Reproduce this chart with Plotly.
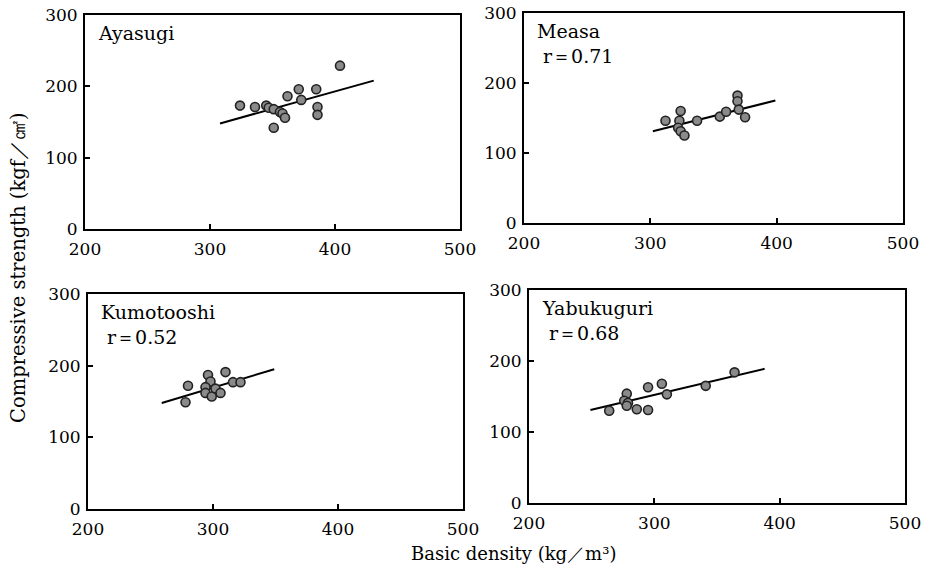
import plotly.graph_objects as go

# ---- data ----
names = ["Ayasugi", "Measa", "Kumotooshi", "Yabukuguri"]
r_labels = ["", "r＝0.71", "r＝0.52", "r＝0.68"]

aya_x = [324, 336, 345, 347, 351, 356, 358, 360, 351, 362, 371, 373, 385, 386, 386, 404]
aya_y = [173, 171, 173, 170, 168, 164, 162, 156, 142, 186, 196, 181, 196, 171, 160, 229]
aya_fit_x = [308, 431]
aya_fit_y = [148, 208]

mea_x = [312, 324, 323, 322, 324, 327, 337, 355, 360, 369, 369, 370, 375]
mea_y = [146, 160, 146, 136, 131, 125, 146, 152, 159, 182, 174, 162, 151]
mea_fit_x = [302, 399]
mea_fit_y = [131, 175]

kum_x = [280, 278, 296, 298, 294, 294, 299, 302, 306, 310, 316, 322]
kum_y = [172, 149, 187, 178, 170, 162, 157, 168, 162, 191, 177, 177]
kum_fit_x = [259, 349]
kum_fit_y = [148, 195]

yab_x = [264, 278, 276, 279, 278, 286, 295, 306, 295, 310, 341, 364]
yab_y = [130, 154, 144, 141, 137, 132, 163, 168, 131, 153, 165, 184]
yab_fit_x = [249, 388]
yab_fit_y = [131, 189]

x_ticks = [200, 300, 400, 500]
x_tick_text = ["200", "300", "400", "500"]
y_ticks = [0, 100, 200, 300]

series = [
    (aya_x, aya_y, aya_fit_x, aya_fit_y),
    (mea_x, mea_y, mea_fit_x, mea_fit_y),
    (kum_x, kum_y, kum_fit_x, kum_fit_y),
    (yab_x, yab_y, yab_fit_x, yab_fit_y),
]

W, H = 932, 578
# panel pixel boxes: left, right, top, bottom
boxes = [(85, 460, 15, 229), (524, 903, 13, 223), (88, 463, 294, 509), (529, 905, 290, 503)]

FONT = "DejaVu Serif"
fig = go.Figure()
layout = {}
for i, ((sx, sy, fx, fy), (l, r, t, b)) in enumerate(zip(series, boxes)):
    k = "" if i == 0 else str(i + 1)
    xa, ya = "x" + k, "y" + k
    fig.add_trace(go.Scatter(x=fx, y=fy, mode="lines", xaxis=xa, yaxis=ya,
                             line=dict(color="black", width=2), showlegend=False,
                             hoverinfo="skip"))
    fig.add_trace(go.Scatter(x=sx, y=sy, mode="markers", xaxis=xa, yaxis=ya,
                             marker=dict(size=9, color="#8a8a8a",
                                         line=dict(color="#222222", width=1.6)),
                             showlegend=False))
    common = dict(showline=True, linecolor="black", linewidth=2, mirror=True,
                  showgrid=False, zeroline=False, ticks="inside", ticklen=5,
                  tickwidth=2, tickcolor="black", automargin=False,
                  tickfont=dict(family=FONT, size=17, color="black"))
    layout["xaxis" + k] = dict(common, range=[200, 500], tickvals=x_ticks,
                               ticktext=x_tick_text, ticklabelstandoff=4,
                               domain=[l / W, r / W], anchor=ya)
    layout["yaxis" + k] = dict(common, range=[0, 300], tickvals=y_ticks,
                               ticklabelstandoff=2,
                               domain=[1 - b / H, 1 - t / H], anchor=xa)
    txt = names[i] if not r_labels[i] else names[i] + "<br> " + r_labels[i]
    fig.add_annotation(x=0, y=1, xref=xa + " domain", yref=ya + " domain",
                       xshift=11, yshift=-5,
                       text=txt, showarrow=False, xanchor="left", yanchor="top",
                       align="left",
                       font=dict(family=FONT, size=19, color="black"))

fig.add_annotation(x=18 / W, y=1 - 268 / H, xref="paper", yref="paper",
                   xanchor="center", yanchor="middle",
                   text="Compressive strength (kgf／㎠)", textangle=-90,
                   showarrow=False, font=dict(family=FONT, size=19.5, color="black"))
fig.add_annotation(x=513 / W, y=1 - 553 / H, xref="paper", yref="paper",
                   xanchor="center", yanchor="middle",
                   text="Basic density (kg／m³)", showarrow=False,
                   font=dict(family=FONT, size=18, color="black"))

fig.update_layout(width=W, height=H, margin=dict(l=0, r=0, t=0, b=0),
                  paper_bgcolor="white", plot_bgcolor="white", **layout)
fig.write_html("out.html", config={"displayModeBar": False},
               post_script="document.body.style.margin='0px';document.body.style.overflow='hidden';")
